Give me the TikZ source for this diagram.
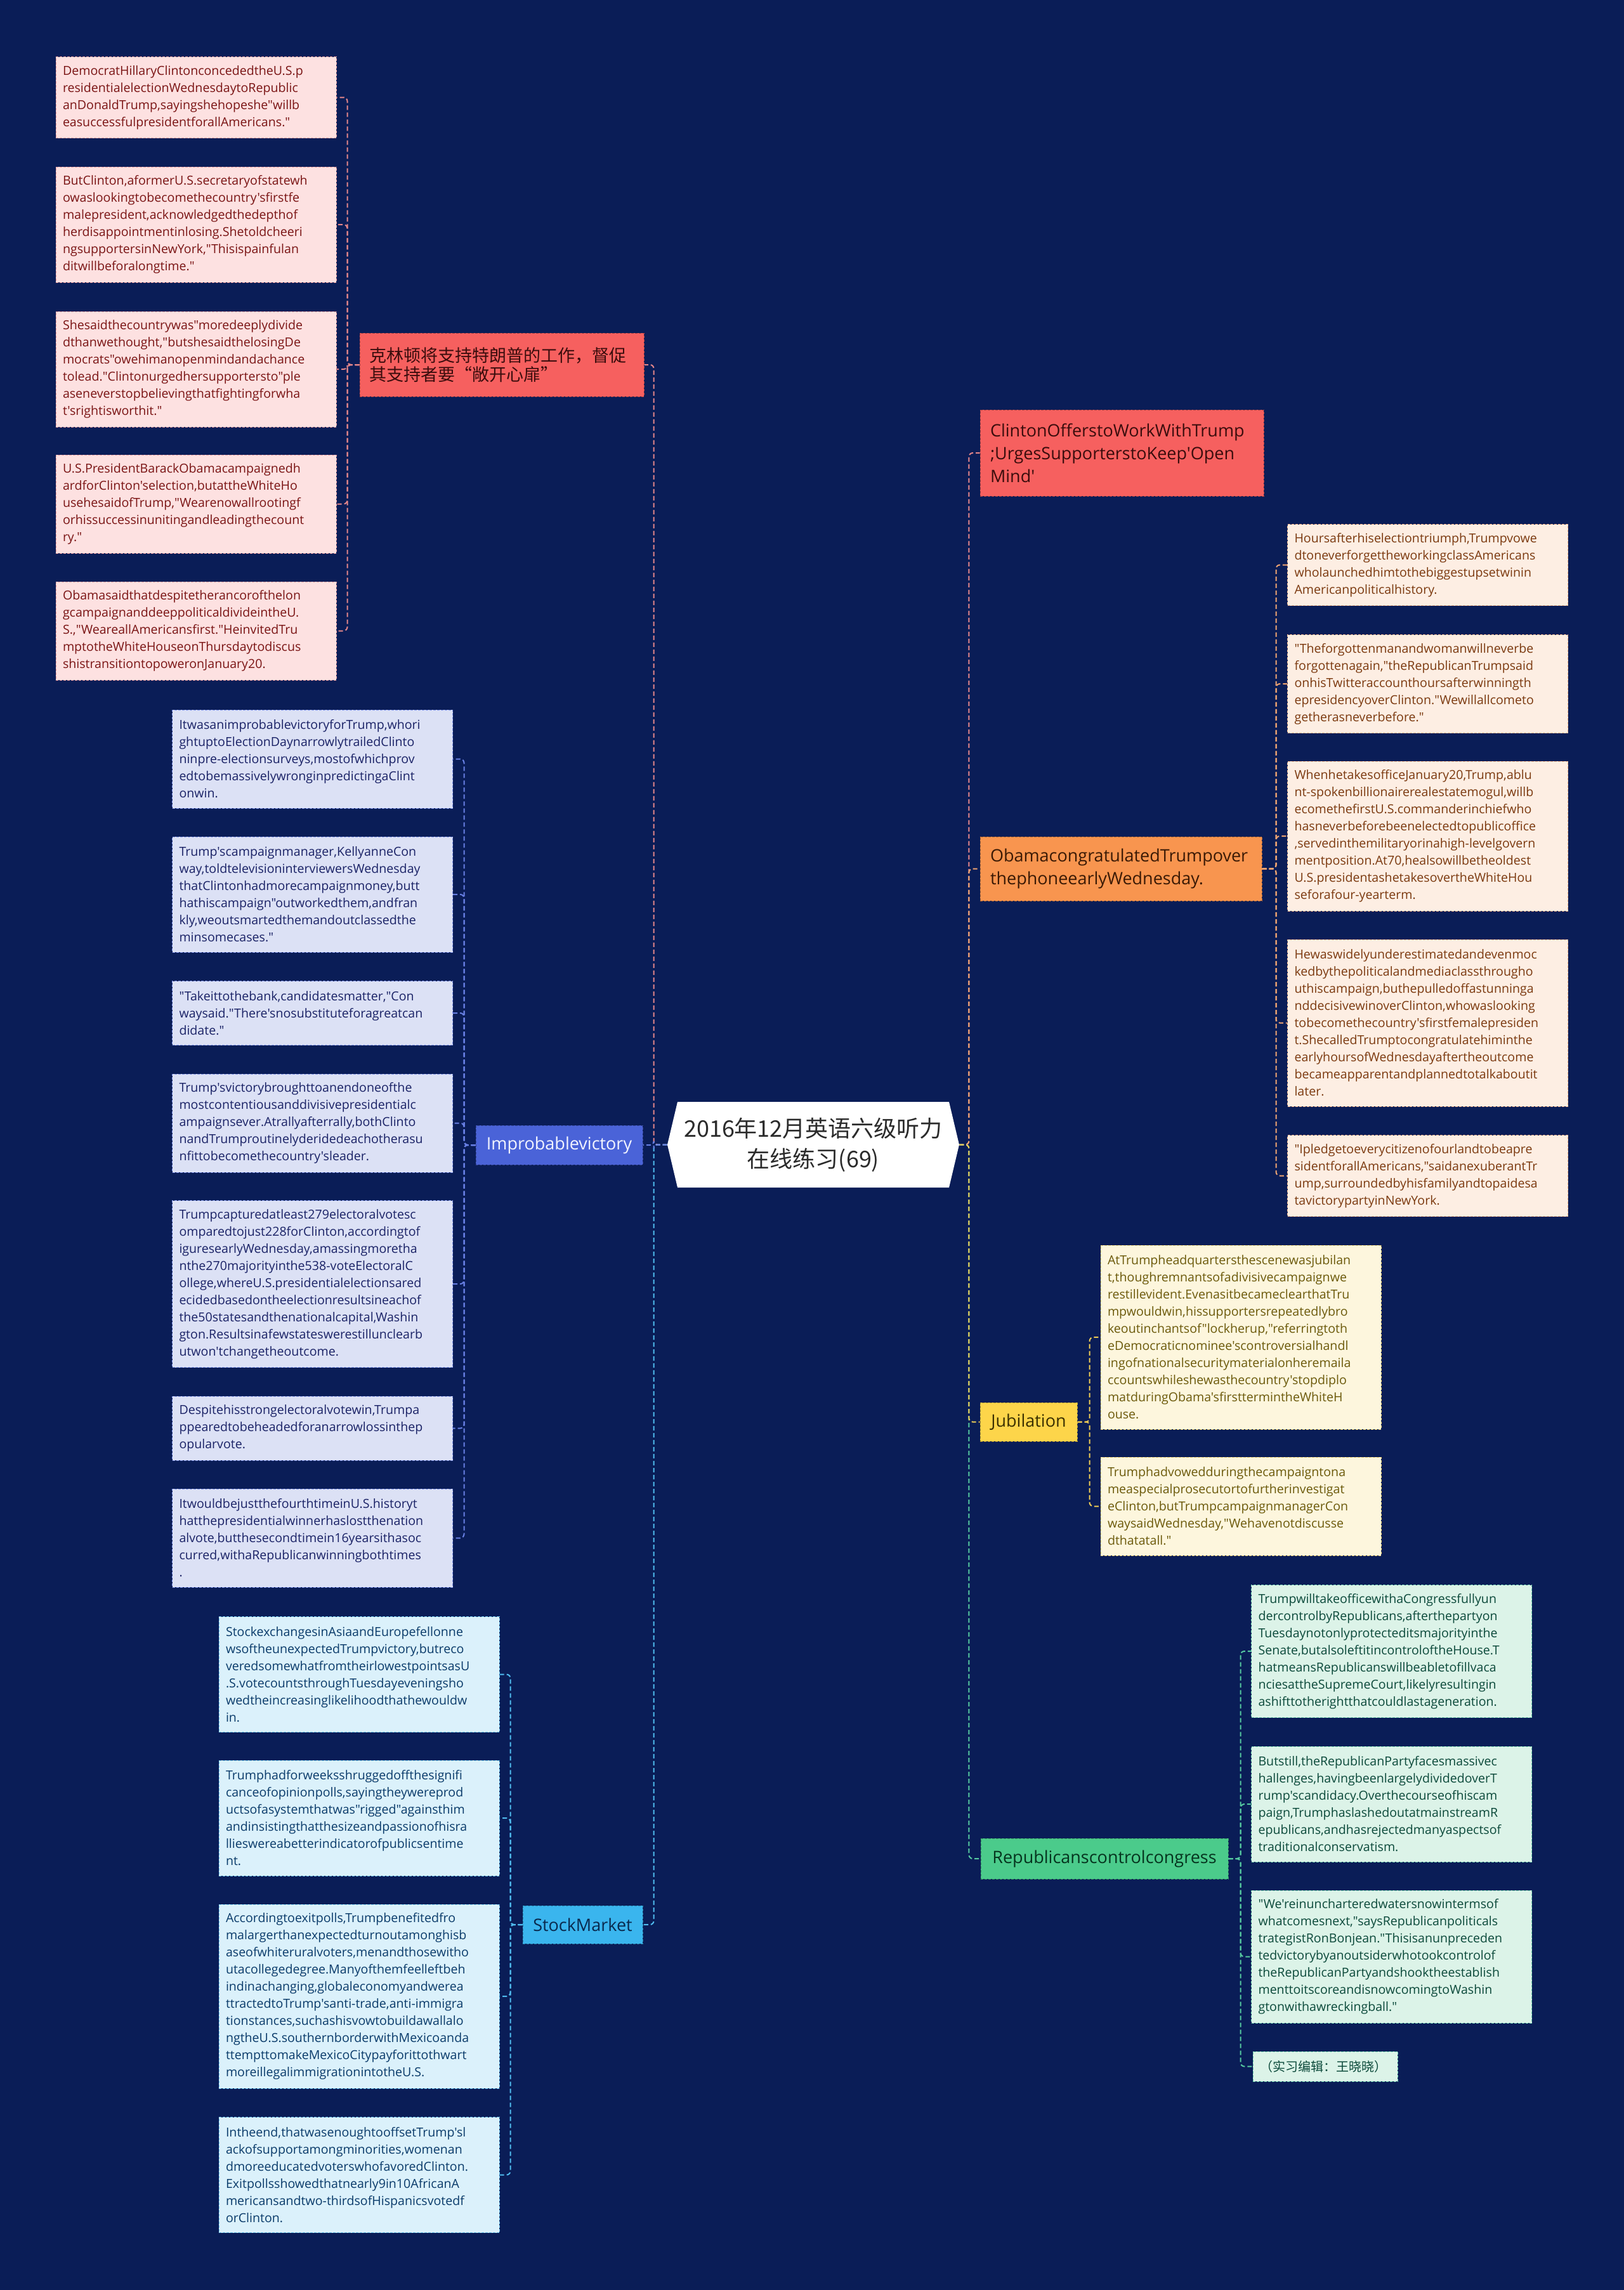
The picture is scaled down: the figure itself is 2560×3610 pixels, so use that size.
\documentclass[tikz,border=0pt]{standalone}
\usepackage{fontspec}
\newfontfamily\latinfont{Open Sans}
\newfontfamily\cjk{Noto Sans CJK SC}
\usepackage{tikz}
\definecolor{mapnavy}{HTML}{0A1D57}
\definecolor{hubink}{HTML}{2B2B2B}
\definecolor{rosenode}{HTML}{F6605F}
\definecolor{rosedark}{HTML}{3B0D0D}
\definecolor{rosepale}{HTML}{FDE1E1}
\definecolor{roseink}{HTML}{7B1515}
\definecolor{roseline}{HTML}{E4868A}
\definecolor{ambernode}{HTML}{F8954F}
\definecolor{amberdark}{HTML}{3B1A05}
\definecolor{amberpale}{HTML}{FDEEE3}
\definecolor{amberink}{HTML}{7C3A10}
\definecolor{amberline}{HTML}{F0A572}
\definecolor{goldnode}{HTML}{FDD54A}
\definecolor{golddark}{HTML}{3B3000}
\definecolor{goldpale}{HTML}{FDF6DD}
\definecolor{goldink}{HTML}{6C5A0B}
\definecolor{goldline}{HTML}{EDCB55}
\definecolor{mintnode}{HTML}{4BCB8B}
\definecolor{mintdark}{HTML}{06351F}
\definecolor{mintpale}{HTML}{DCF3E8}
\definecolor{mintink}{HTML}{0C4A3B}
\definecolor{mintline}{HTML}{55C9A0}
\definecolor{indigonode}{HTML}{4A63D8}
\definecolor{indigodark}{HTML}{F2F4FF}
\definecolor{indigopale}{HTML}{DCE1F5}
\definecolor{indigoink}{HTML}{1B2367}
\definecolor{indigoline}{HTML}{6880E4}
\definecolor{skynode}{HTML}{3AB5EE}
\definecolor{skydark}{HTML}{0A2A4E}
\definecolor{skypale}{HTML}{DBF1FB}
\definecolor{skyink}{HTML}{0B3C6B}
\definecolor{skyline}{HTML}{50BCEF}
\newcommand{\leaffont}{\latinfont\fontsize{9.8}{13.5}\selectfont\exhyphenpenalty=10000 \hyphenpenalty=10000 }
\newcommand{\branchfont}{\latinfont\fontsize{13.5}{18}\selectfont}

\begin{document}
\begin{tikzpicture}[x=0.5pt, y=-0.5pt,
  hub/.style={rectangle, fill=mapnavy, minimum width=230pt, minimum height=67.5pt, align=center, inner sep=0pt, text=hubink, font=\cjk\fontsize{18}{24}\selectfont,
    path picture={\fill[white] (path picture bounding box.west) -- ([xshift=8pt]path picture bounding box.north west) -- ([xshift=-8pt]path picture bounding box.north east) -- (path picture bounding box.east) -- ([xshift=-8pt]path picture bounding box.south east) -- ([xshift=8pt]path picture bounding box.south west) -- cycle;}},
  branch/.style={draw=#1node!70!black, fill=#1node, text=#1dark, dash pattern=on 2pt off 1pt, line width=0.5pt, inner xsep=8pt, font=\branchfont},
  leaf/.style={draw=#1line!80, fill=#1pale, text=#1ink, dash pattern=on 2pt off 1pt, line width=0.4pt, text width=210pt, align=left, inner xsep=5.5pt, inner ysep=4pt, font=\leaffont},
  nrows/.style={minimum height=#1*13.5pt+10pt},
  link/.style={draw=#1line, line width=1pt, dash pattern=on 3.5pt off 2pt, rounded corners=3pt},
]
  \fill[mapnavy] (0,0) rectangle (2560,3610);

  % Centre
  \node[hub] (hub) at (1282,1804.5) {2016年12月英语六级听力\\在线练习(69)};

  % Left branches
  \node[branch=rose, text width=209pt, align=left, inner xsep=7.5pt, minimum height=50pt, font=\cjk\fontsize{13.5}{15}\selectfont] (clintonzh) at (791,575) {克林顿将支持特朗普的工作，督促\\其支持者要“敞开心扉”};
  \node[branch=indigo, inner xsep=4pt, minimum width=131.5pt, minimum height=31pt] (improbable) at (881.5,1805) {Improbablevictory};
  \node[branch=sky, inner xsep=4pt, minimum width=94.5pt, minimum height=30pt] (stock) at (918.5,3034) {StockMarket};

  % Right branches
  \node[branch=rose, text width=207.5pt, align=left, minimum height=68pt] (clintonen) at (1768.5,714) {ClintonOfferstoWorkWithTrump\\;UrgesSupporterstoKeep'Open\\Mind'};
  \node[branch=amber, text width=206pt, align=left, minimum height=50.5pt] (obama) at (1767,1369.5) {ObamacongratulatedTrumpover\\thephoneearlyWednesday.};
  \node[branch=gold, inner xsep=4pt, minimum width=76.5pt, minimum height=30.5pt] (jubilation) at (1621.5,2241.5) {Jubilation};
  \node[branch=mint, inner xsep=4pt, minimum width=195pt, minimum height=32pt] (republicans) at (1741,2930) {Republicanscontrolcongress};

  % Leaves of the Chinese headline
  \node[leaf=rose, nrows=4] (p1) at (309,153.5) {DemocratHillaryClintonconcededtheU.S.p\\residentialelectionWednesdaytoRepublic\\anDonaldTrump,sayingshehopeshe"willb\\easuccessfulpresidentforallAmericans."};
  \node[leaf=rose, nrows=6] (p2) at (309,354) {ButClinton,aformerU.S.secretaryofstatewh\\owaslookingtobecomethecountry'sfirstfe\\malepresident,acknowledgedthedepthof\\herdisappointmentinlosing.Shetoldcheeri\\ngsupportersinNewYork,"Thisispainfulan\\ditwillbeforalongtime."};
  \node[leaf=rose, nrows=6] (p3) at (309,582) {Shesaidthecountrywas"moredeeplydivide\\dthanwethought,"butshesaidthelosingDe\\mocrats"owehimanopenmindandachance\\tolead."Clintonurgedhersupportersto"ple\\aseneverstopbelievingthatfightingforwha\\t'srightisworthit."};
  \node[leaf=rose, nrows=5] (p4) at (309,794.5) {U.S.PresidentBarackObamacampaignedh\\ardforClinton'selection,butattheWhiteHo\\usehesaidofTrump,"Wearenowallrootingf\\orhissuccessinunitingandleadingthecount\\ry."};
  \node[leaf=rose, nrows=5] (p5) at (309,994.5) {Obamasaidthatdespitetherancorofthelon\\gcampaignanddeeppoliticaldivideintheU.\\S.,"WeareallAmericansfirst."HeinvitedTru\\mptotheWhiteHouseonThursdaytodiscus\\shistransitiontopoweronJanuary20.};

  % Leaves of Improbablevictory
  \node[leaf=indigo, nrows=5] (i1) at (492.5,1196.5) {ItwasanimprobablevictoryforTrump,whori\\ghtuptoElectionDaynarrowlytrailedClinto\\ninpre-electionsurveys,mostofwhichprov\\edtobemassivelywronginpredictingaClint\\onwin.};
  \node[leaf=indigo, nrows=6] (i2) at (492.5,1410) {Trump'scampaignmanager,KellyanneCon\\way,toldtelevisioninterviewersWednesday\\thatClintonhadmorecampaignmoney,butt\\hathiscampaign"outworkedthem,andfran\\kly,weoutsmartedthemandoutclassedthe\\minsomecases."};
  \node[leaf=indigo, nrows=3] (i3) at (492.5,1597) {"Takeittothebank,candidatesmatter,"Con\\waysaid."There'snosubstituteforagreatcan\\didate."};
  \node[leaf=indigo, nrows=5] (i4) at (492.5,1770.5) {Trump'svictorybroughttoanendoneofthe\\mostcontentiousanddivisivepresidentialc\\ampaignsever.Atrallyafterrally,bothClinto\\nandTrumproutinelyderidedeachotherasu\\nfittobecomethecountry'sleader.};
  \node[leaf=indigo, nrows=9] (i5) at (492.5,2024) {Trumpcapturedatleast279electoralvotesc\\omparedtojust228forClinton,accordingtof\\iguresearlyWednesday,amassingmoretha\\nthe270majorityinthe538-voteElectoralC\\ollege,whereU.S.presidentialelectionsared\\ecidedbasedontheelectionresultsineachof\\the50statesandthenationalcapital,Washin\\gton.Resultsinafewstateswerestillunclearb\\utwon'tchangetheoutcome.};
  \node[leaf=indigo, nrows=3] (i6) at (492.5,2251.5) {Despitehisstrongelectoralvotewin,Trumpa\\ppearedtobeheadedforanarrowlossinthep\\opularvote.};
  \node[leaf=indigo, nrows=5] (i7) at (492.5,2424.5) {ItwouldbejustthefourthtimeinU.S.historyt\\hatthepresidentialwinnerhaslostthenation\\alvote,butthesecondtimein16yearsithasoc\\curred,withaRepublicanwinningbothtimes\\.};

  % Leaves of StockMarket
  \node[leaf=sky, nrows=6] (s1) at (566,2639.5) {StockexchangesinAsiaandEuropefellonne\\wsoftheunexpectedTrumpvictory,butreco\\veredsomewhatfromtheirlowestpointsasU\\.S.votecountsthroughTuesdayeveningsho\\wedtheincreasinglikelihoodthathewouldw\\in.};
  \node[leaf=sky, nrows=6] (s2) at (566,2866) {Trumphadforweeksshruggedoffthesignifi\\canceofopinionpolls,sayingtheywereprod\\uctsofasystemthatwas"rigged"againsthim\\andinsistingthatthesizeandpassionofhisra\\llieswereabetterindicatorofpublicsentime\\nt.};
  \node[leaf=sky, nrows=10] (s3) at (566,3147) {Accordingtoexitpolls,Trumpbenefitedfro\\malargerthanexpectedturnoutamonghisb\\aseofwhiteruralvoters,menandthosewitho\\utacollegedegree.Manyofthemfeelleftbeh\\indinachanging,globaleconomyandwerea\\ttractedtoTrump'santi-trade,anti-immigra\\tionstances,suchashisvowtobuildawallalo\\ngtheU.S.southernborderwithMexicoanda\\ttempttomakeMexicoCitypayforittothwart\\moreillegalimmigrationintotheU.S.};
  \node[leaf=sky, nrows=6] (s4) at (566,3428.5) {Intheend,thatwasenoughtooffsetTrump'sl\\ackofsupportamongminorities,womenan\\dmoreeducatedvoterswhofavoredClinton.\\Exitpollsshowedthatnearly9in10AfricanA\\mericansandtwo-thirdsofHispanicsvotedf\\orClinton.};

  % Leaves of the Obama branch
  \node[leaf=amber, nrows=4] (t1) at (2250.5,890.5) {Hoursafterhiselectiontriumph,Trumpvowe\\dtoneverforgettheworkingclassAmericans\\wholaunchedhimtothebiggestupsetwinin\\Americanpoliticalhistory.};
  \node[leaf=amber, nrows=5] (t2) at (2250.5,1078) {"Theforgottenmanandwomanwillneverbe\\forgottenagain,"theRepublicanTrumpsaid\\onhisTwitteraccounthoursafterwinningth\\epresidencyoverClinton."Wewillallcometo\\getherasneverbefore."};
  \node[leaf=amber, nrows=8] (t3) at (2250.5,1318) {WhenhetakesofficeJanuary20,Trump,ablu\\nt-spokenbillionairerealestatemogul,willb\\ecomethefirstU.S.commanderinchiefwho\\hasneverbeforebeenelectedtopublicoffice\\,servedinthemilitaryorinahigh-levelgovern\\mentposition.At70,healsowillbetheoldest\\U.S.presidentashetakesovertheWhiteHou\\seforafour-yearterm.};
  \node[leaf=amber, nrows=9] (t4) at (2250.5,1612.5) {Hewaswidelyunderestimatedandevenmoc\\kedbythepoliticalandmediaclassthrougho\\uthiscampaign,buthepulledoffastunninga\\nddecisivewinoverClinton,whowaslooking\\tobecomethecountry'sfirstfemalepresiden\\t.ShecalledTrumptocongratulatehiminthe\\earlyhoursofWednesdayaftertheoutcome\\becameapparentandplannedtotalkaboutit\\later.};
  \node[leaf=amber, nrows=4] (t5) at (2250.5,1853.5) {"Ipledgetoeverycitizenofourlandtobeapre\\sidentforallAmericans,"saidanexuberantTr\\ump,surroundedbyhisfamilyandtopaidesa\\tavictorypartyinNewYork.};

  % Leaves of Jubilation
  \node[leaf=gold, nrows=10] (j1) at (1956,2108) {AtTrumpheadquartersthescenewasjubilan\\t,thoughremnantsofadivisivecampaignwe\\restillevident.EvenasitbecameclearthatTru\\mpwouldwin,hissupportersrepeatedlybro\\keoutinchantsof"lockherup,"referringtoth\\eDemocraticnominee'scontroversialhandl\\ingofnationalsecuritymaterialonheremaila\\ccountswhileshewasthecountry'stopdiplo\\matduringObama'sfirsttermintheWhiteH\\ouse.};
  \node[leaf=gold, nrows=5] (j2) at (1956,2374.5) {Trumphadvowedduringthecampaigntona\\measpecialprosecutortofurtherinvestigat\\eClinton,butTrumpcampaignmanagerCon\\waysaidWednesday,"Wehavenotdiscusse\\dthatatall."};

  % Leaves of Republicanscontrolcongress
  \node[leaf=mint, nrows=7] (r1) at (2193.5,2603) {TrumpwilltakeofficewithaCongressfullyun\\dercontrolbyRepublicans,afterthepartyon\\Tuesdaynotonlyprotecteditsmajorityinthe\\Senate,butalsoleftitincontroloftheHouse.T\\hatmeansRepublicanswillbeabletofillvaca\\nciesattheSupremeCourt,likelyresultingin\\ashifttotherightthatcouldlastageneration.};
  \node[leaf=mint, nrows=6] (r2) at (2193.5,2844) {Butstill,theRepublicanPartyfacesmassivec\\hallenges,havingbeenlargelydividedoverT\\rump'scandidacy.Overthecourseofhiscam\\paign,TrumphaslashedoutatmainstreamR\\epublicans,andhasrejectedmanyaspectsof\\traditionalconservatism.};
  \node[leaf=mint, nrows=7] (r3) at (2193.5,3084.5) {"We'reinuncharteredwatersnowintermsof\\whatcomesnext,"saysRepublicanpoliticals\\trategistRonBonjean."Thisisanunpreceden\\tedvictorybyanoutsiderwhotookcontrolof\\theRepublicanPartyandshooktheestablish\\menttoitscoreandisnowcomingtoWashin\\gtonwithawreckingball."};
  \node[leaf=mint, nrows=1, text width=103pt, font=\cjk\fontsize{10}{13.5}\selectfont] (r4) at (2089,3257.5) {（实习编辑：王晓晓）};

  % Centre to branches
  \draw[link=rose] (hub.west) -- ++(-21,0) |- (clintonzh.east);
  \draw[link=sky] (hub.west) -- ++(-21,0) |- (stock.east);
  \draw[link=indigo] (hub.west) -- ++(-21,0) |- (improbable.east);
  \draw[link=rose] (hub.east) -- ++(15,0) |- (clintonen.west);
  \draw[link=amber] (hub.east) -- ++(15,0) |- (obama.west);
  \draw[link=mint] (hub.east) -- ++(15,0) |- (republicans.west);
  \draw[link=gold] (hub.east) -- ++(15,0) |- (jubilation.west);

  % Branches to leaves
  \draw[link=rose] (clintonzh.west) -- ++(-19,0) |- (p1.east);
  \draw[link=rose] (clintonzh.west) -- ++(-19,0) |- (p2.east);
  \draw[link=rose] (clintonzh.west) -- ++(-19,0) |- (p3.east);
  \draw[link=rose] (clintonzh.west) -- ++(-19,0) |- (p4.east);
  \draw[link=rose] (clintonzh.west) -- ++(-19,0) |- (p5.east);

  \draw[link=indigo] (improbable.west) -- ++(-18,0) |- (i1.east);
  \draw[link=indigo] (improbable.west) -- ++(-18,0) |- (i2.east);
  \draw[link=indigo] (improbable.west) -- ++(-18,0) |- (i3.east);
  \draw[link=indigo] (improbable.west) -- ++(-18,0) |- (i4.east);
  \draw[link=indigo] (improbable.west) -- ++(-18,0) |- (i5.east);
  \draw[link=indigo] (improbable.west) -- ++(-18,0) |- (i6.east);
  \draw[link=indigo] (improbable.west) -- ++(-18,0) |- (i7.east);

  \draw[link=sky] (stock.west) -- ++(-19,0) |- (s1.east);
  \draw[link=sky] (stock.west) -- ++(-19,0) |- (s2.east);
  \draw[link=sky] (stock.west) -- ++(-19,0) |- (s3.east);
  \draw[link=sky] (stock.west) -- ++(-19,0) |- (s4.east);

  \draw[link=amber] (obama.east) -- ++(22,0) |- (t1.west);
  \draw[link=amber] (obama.east) -- ++(22,0) |- (t2.west);
  \draw[link=amber] (obama.east) -- ++(22,0) |- (t3.west);
  \draw[link=amber] (obama.east) -- ++(22,0) |- (t4.west);
  \draw[link=amber] (obama.east) -- ++(22,0) |- (t5.west);

  \draw[link=gold] (jubilation.east) -- ++(19,0) |- (j1.west);
  \draw[link=gold] (jubilation.east) -- ++(19,0) |- (j2.west);

  \draw[link=mint] (republicans.east) -- ++(19,0) |- (r1.west);
  \draw[link=mint] (republicans.east) -- ++(19,0) |- (r2.west);
  \draw[link=mint] (republicans.east) -- ++(19,0) |- (r3.west);
  \draw[link=mint] (republicans.east) -- ++(19,0) |- (r4.west);
\end{tikzpicture}
\end{document}
